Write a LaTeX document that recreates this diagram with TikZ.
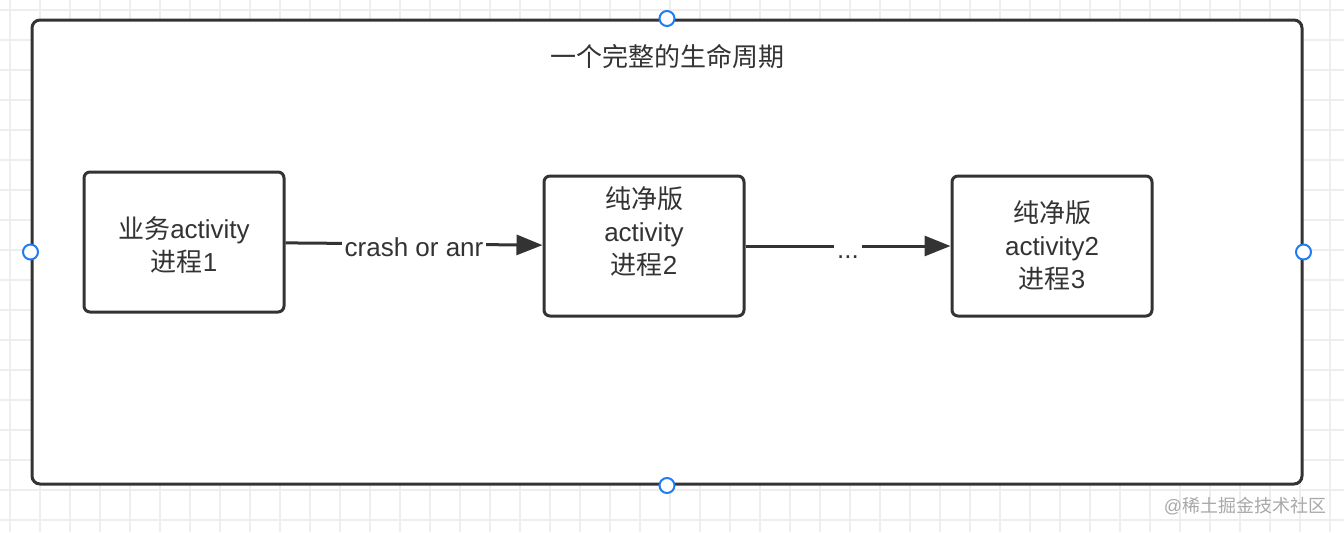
\documentclass[tikz,border=0pt]{standalone}
\usepackage{fontspec}
\setmainfont{Liberation Sans}
\newfontfamily\zhfont{Noto Sans CJK SC}
\usetikzlibrary{arrows.meta}
\definecolor{ink}{HTML}{333333}
\definecolor{handleblue}{HTML}{1F7CF0}
\definecolor{gridgray}{HTML}{EEEEEE}
\definecolor{wmgray}{HTML}{A8A8A8}
\newcommand{\zh}[1]{{\zhfont #1}}
\begin{document}
\begin{tikzpicture}[x=0.5pt,y=-0.5pt,
  every node/.style={font=\fontsize{13}{16.5}\selectfont,text=ink},
  frame/.style={draw=ink,fill=white,line width=1.5pt,rounded corners=4pt,minimum width=635pt,minimum height=232pt,inner sep=0pt},
  box/.style={draw=ink,line width=1.5pt,rounded corners=3pt,minimum width=100pt,minimum height=70pt,align=center,inner sep=0pt},
  boxtext/.style={align=center,inner sep=0pt},
  handle/.style={circle,draw=handleblue,fill=white,line width=1pt,minimum size=7.5pt,inner sep=0pt},
  lbl/.style={fill=white,inner xsep=1.5pt,inner ysep=0pt,text height=12pt,text depth=0pt},
  link/.style={draw=ink,line width=1.5pt,-{Triangle[length=13pt,width=10pt]}},
  gridline/.style={draw=gridgray,line width=1pt}]
\useasboundingbox[fill=white] (0,0) rectangle (1344,532);
% background grid
\foreach \gx in {10,40,...,1330} \draw[gridline] (\gx,0) -- (\gx,532);
\foreach \gy in {10,40,...,520} \draw[gridline] (0,\gy) -- (1344,\gy);

\node[frame] (life) at (667,252) {};
\node (title) at (667,57) {\zh{一个完整的生命周期}};

\node[box] (biz) at (184,242) {};
\node[boxtext] (biztxt) at (184,245) {\zh{业务}activity\\\zh{进程}1};
\node[box] (pure) at (644,246) {};
\node[boxtext] (puretxt) at (644,232) {\zh{纯净版}\\activity\\\zh{进程}2};
\node[box] (pure2) at (1052,246) {\zh{纯净版}\\activity2\\\zh{进程}3};

\draw[link] (biz) -- node[lbl] {crash or anr} (pure);
\draw[link] (pure) -- node[lbl] {...} (pure2);

\node[handle] (hn) at (life.north) {};
\node[handle] (hs) at (life.south) {};
\node[handle] (hw) at (life.west) {};
\node[handle] (he) at (life.east) {};

\node[font=\fontsize{9}{11}\selectfont,text=wmgray] (wm) at (1245,506) {@\zh{稀土掘金技术社区}};
\end{tikzpicture}
\end{document}
